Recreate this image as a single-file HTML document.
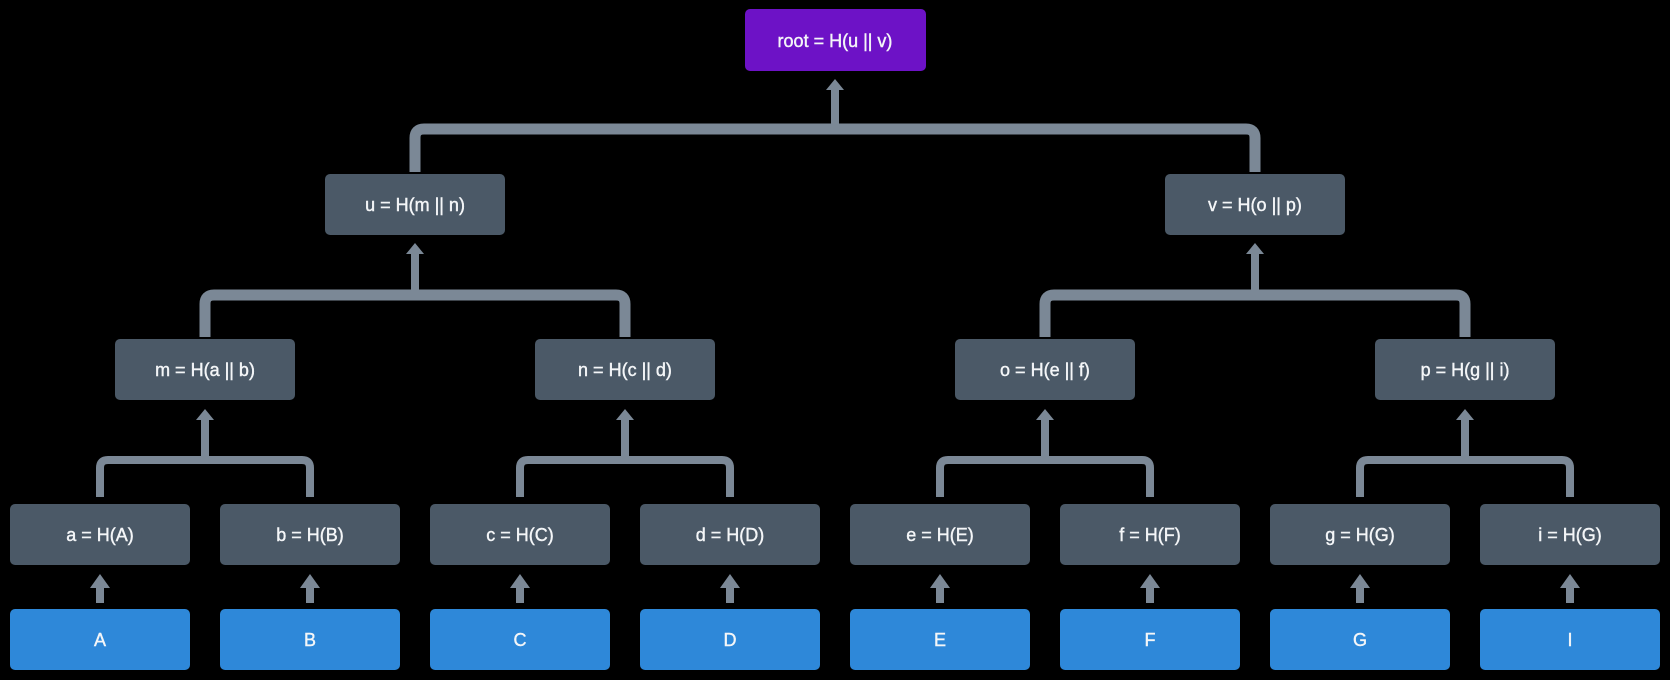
<!DOCTYPE html>
<html><head><meta charset="utf-8"><style>
html,body{margin:0;padding:0;background:#000;}
svg{display:block}
text{font-family:"Liberation Sans","DejaVu Sans",sans-serif;font-size:18px;fill:#f4f6f8;text-anchor:middle;dominant-baseline:central;stroke:#f4f6f8;stroke-width:0.4}
</style></head><body>
<svg width="1670" height="680" viewBox="0 0 1670 680" xmlns="http://www.w3.org/2000/svg">
<g fill="none" stroke="#7b8896" stroke-linejoin="round">
<path d="M415 172 V138 Q415 129 424 129 H1246 Q1255 129 1255 138 V172" stroke-width="11"/>
<path d="M835 129 V84" stroke-width="8"/>
<path d="M205 337 V304 Q205 295 214 295 H616 Q625 295 625 304 V337" stroke-width="11"/>
<path d="M415 295 V248" stroke-width="8"/>
<path d="M1045 337 V304 Q1045 295 1054 295 H1456 Q1465 295 1465 304 V337" stroke-width="11"/>
<path d="M1255 295 V248" stroke-width="8"/>
<path d="M100 497 V468 Q100 460 108 460 H302 Q310 460 310 468 V497" stroke-width="8"/>
<path d="M205 460 V414" stroke-width="8"/>
<path d="M520 497 V468 Q520 460 528 460 H722 Q730 460 730 468 V497" stroke-width="8"/>
<path d="M625 460 V414" stroke-width="8"/>
<path d="M940 497 V468 Q940 460 948 460 H1142 Q1150 460 1150 468 V497" stroke-width="8"/>
<path d="M1045 460 V414" stroke-width="8"/>
<path d="M1360 497 V468 Q1360 460 1368 460 H1562 Q1570 460 1570 468 V497" stroke-width="8"/>
<path d="M1465 460 V414" stroke-width="8"/>
<g stroke-width="8">
<path d="M100 603 V580"/><path d="M310 603 V580"/><path d="M520 603 V580"/><path d="M730 603 V580"/>
<path d="M940 603 V580"/><path d="M1150 603 V580"/><path d="M1360 603 V580"/><path d="M1570 603 V580"/>
</g>
</g>
<g fill="#7b8896">
<polygon points="826,90 835,79 844,90"/>
<polygon points="406,254 415,243 424,254"/>
<polygon points="1246,254 1255,243 1264,254"/>
<polygon points="196,420 205,409 214,420"/>
<polygon points="616,420 625,409 634,420"/>
<polygon points="1036,420 1045,409 1054,420"/>
<polygon points="1456,420 1465,409 1474,420"/>
<polygon points="90,588 100,574 110,588"/>
<polygon points="300,588 310,574 320,588"/>
<polygon points="510,588 520,574 530,588"/>
<polygon points="720,588 730,574 740,588"/>
<polygon points="930,588 940,574 950,588"/>
<polygon points="1140,588 1150,574 1160,588"/>
<polygon points="1350,588 1360,574 1370,588"/>
<polygon points="1560,588 1570,574 1580,588"/>
</g>
<rect x="745" y="9" width="181" height="62" rx="5" fill="#6d12c6"/>
<text x="835" y="41">root = H(u || v)</text>
<g fill="#4b5967">
<rect x="325" y="174" width="180" height="61" rx="5"/>
<rect x="1165" y="174" width="180" height="61" rx="5"/>
<rect x="115" y="339" width="180" height="61" rx="5"/>
<rect x="535" y="339" width="180" height="61" rx="5"/>
<rect x="955" y="339" width="180" height="61" rx="5"/>
<rect x="1375" y="339" width="180" height="61" rx="5"/>
<rect x="10" y="504" width="180" height="61" rx="5"/>
<rect x="220" y="504" width="180" height="61" rx="5"/>
<rect x="430" y="504" width="180" height="61" rx="5"/>
<rect x="640" y="504" width="180" height="61" rx="5"/>
<rect x="850" y="504" width="180" height="61" rx="5"/>
<rect x="1060" y="504" width="180" height="61" rx="5"/>
<rect x="1270" y="504" width="180" height="61" rx="5"/>
<rect x="1480" y="504" width="180" height="61" rx="5"/>
</g>
<g fill="#2e88d9">
<rect x="10" y="609" width="180" height="61" rx="5"/>
<rect x="220" y="609" width="180" height="61" rx="5"/>
<rect x="430" y="609" width="180" height="61" rx="5"/>
<rect x="640" y="609" width="180" height="61" rx="5"/>
<rect x="850" y="609" width="180" height="61" rx="5"/>
<rect x="1060" y="609" width="180" height="61" rx="5"/>
<rect x="1270" y="609" width="180" height="61" rx="5"/>
<rect x="1480" y="609" width="180" height="61" rx="5"/>
</g>
<text x="415" y="205">u = H(m || n)</text>
<text x="1255" y="205">v = H(o || p)</text>
<text x="205" y="370">m = H(a || b)</text>
<text x="625" y="370">n = H(c || d)</text>
<text x="1045" y="370">o = H(e || f)</text>
<text x="1465" y="370">p = H(g || i)</text>
<text x="100" y="535">a = H(A)</text>
<text x="310" y="535">b = H(B)</text>
<text x="520" y="535">c = H(C)</text>
<text x="730" y="535">d = H(D)</text>
<text x="940" y="535">e = H(E)</text>
<text x="1150" y="535">f = H(F)</text>
<text x="1360" y="535">g = H(G)</text>
<text x="1570" y="535">i = H(G)</text>
<text x="100" y="640">A</text>
<text x="310" y="640">B</text>
<text x="520" y="640">C</text>
<text x="730" y="640">D</text>
<text x="940" y="640">E</text>
<text x="1150" y="640">F</text>
<text x="1360" y="640">G</text>
<text x="1570" y="640">I</text>
</svg>
</body></html>
